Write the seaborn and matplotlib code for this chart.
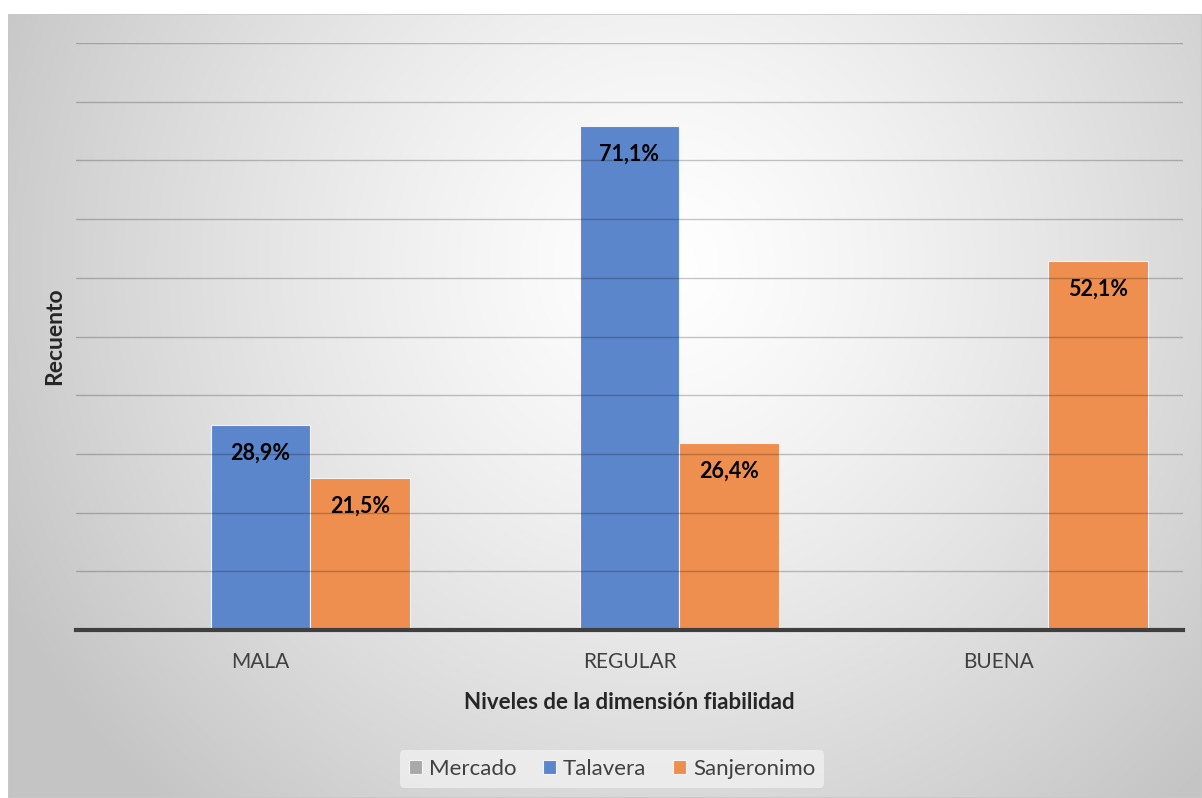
import numpy as np
import pandas as pd
import matplotlib
matplotlib.use("Agg")
import matplotlib.pyplot as plt
import seaborn as sns

# ---- data ----
categories = ["MALA", "REGULAR", "BUENA"]
series = ["Mercado", "Talavera", "Sanjeronimo"]
mercado = [0.0, 0.0, 0.0]
talavera = [28.9, 71.1, 0.0]
sanjeronimo = [21.5, 26.4, 52.1]
colors = ["#A9A9A9", "#5B86CC", "#EE8E4F"]

df = pd.DataFrame({
    "nivel": categories * 3,
    "serie": [s for s in series for _ in categories],
    "valor": mercado + talavera + sanjeronimo,
})

sns.set_theme(style="white")
plt.rcParams["font.family"] = ["Lato", "DejaVu Sans"]

W, H = 1202, 798
fig = plt.figure(figsize=(W / 100, H / 100), dpi=100)
fig.patch.set_facecolor("white")

# background gradient chart area
bg = fig.add_axes([8 / W, 0, 1 - 8 / W, (H - 14) / H])
bg.set_zorder(-5)
nx, ny = 400, 260
xx, yy = np.meshgrid(np.linspace(0, 1, nx), np.linspace(0, 1, ny))
cx, cy = 0.55, 0.32
r = np.sqrt(((xx - cx) / 0.62) ** 2 + ((yy - cy) / 0.95) ** 2)
r = np.clip(r, 0, 1)
g = 1.0 - 0.23 * r ** 1.3
img = np.dstack([g, g, g])
bg.imshow(img, aspect="auto", extent=[0, 1, 1, 0], interpolation="bilinear")
bg.set_xlim(0, 1)
bg.set_ylim(1, 0)
bg.axis("off")
bg.add_patch(plt.Rectangle((0, 0), 1, 1, fill=False, edgecolor="#C8C8C8", lw=1.2, transform=bg.transAxes))

# main axes
left, right = 76 / W, 1183 / W
bottom, top = (H - 630) / H, (H - 43) / H
ax = fig.add_axes([left, bottom, right - left, top - bottom])
ax.set_facecolor("none")

sns.barplot(data=df, x="nivel", y="valor", hue="serie", hue_order=series,
            order=categories, palette=colors, width=0.813, ax=ax,
            edgecolor="#F4F4F4", linewidth=0.8, saturation=1, legend=True)

ymax = 82.8
ax.set_ylim(0, ymax)
ax.set_xlim(-0.5, 2.5)
ax.set_yticks(np.linspace(0, ymax, 11))
ax.set_yticklabels([])
ax.tick_params(axis="y", length=0)
ax.tick_params(axis="x", length=0, pad=16, labelsize=15, labelcolor="#404040")
ax.grid(axis="y", color="#000000", alpha=0.22, lw=1.0)
ax.set_axisbelow(False)
for side in ["top", "right", "left"]:
    ax.spines[side].set_visible(False)
ax.spines["bottom"].set_color("#3F3F3F")
ax.spines["bottom"].set_linewidth(3)
ax.spines["bottom"].set_zorder(10)

# labels inside bars
for cont in ax.containers:
    for bar in cont:
        h = bar.get_height()
        if h > 0:
            ax.text(bar.get_x() + bar.get_width() / 2, h - 4.0,
                    f"{h:.1f}%".replace(".", ","), ha="center", va="center",
                    fontsize=15.5, fontweight="bold", color="black", zorder=12)

ax.set_xlabel("Niveles de la dimensión fiabilidad", fontsize=16, fontweight="bold",
              color="#262626", labelpad=14)
ax.set_ylabel("Recuento", fontsize=16.5, fontweight="bold", color="#262626", labelpad=4)

handles, labels = ax.get_legend_handles_labels()
ax.get_legend().remove()
leg = fig.legend(handles, labels, loc="center", bbox_to_anchor=(612 / W, 1 - 769 / H),
                 ncol=3, frameon=True, fontsize=16, handlelength=0.6, handleheight=0.6,
                 handletextpad=0.3, columnspacing=1.2, borderpad=0.4)
leg.get_frame().set_facecolor("#F3F3F3")
leg.get_frame().set_edgecolor("none")
leg.get_frame().set_alpha(0.7)
for t in leg.get_texts():
    t.set_color("#404040")

fig.savefig("out.png", dpi=100)
